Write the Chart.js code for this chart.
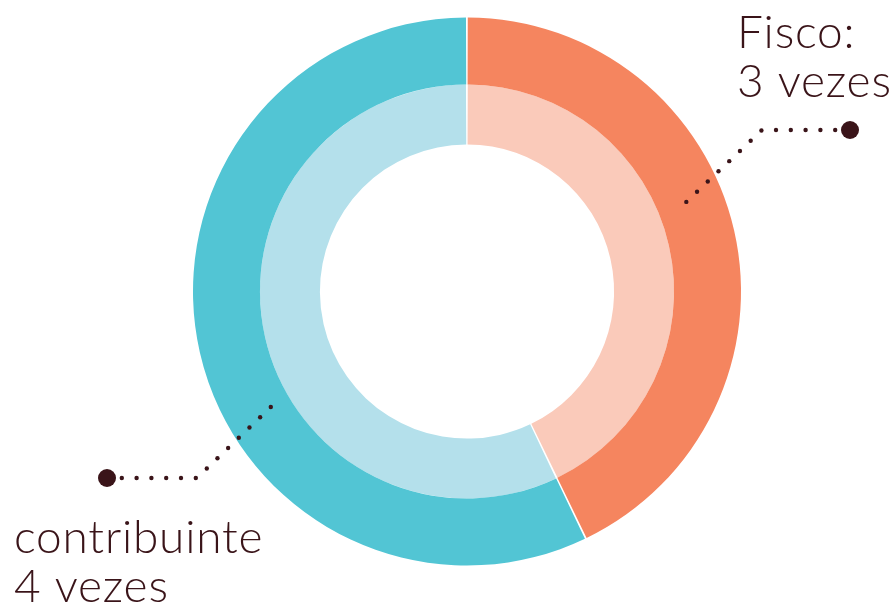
<!DOCTYPE html>
<html>
<head>
<meta charset="utf-8">
<script src="https://cdn.jsdelivr.net/npm/chart.js@4/dist/chart.umd.min.js"></script>
<style>
  html, body { margin: 0; padding: 0; background: #fff; }
  #wrap { width: 895px; height: 604px; position: relative; }
</style>
</head>
<body>
<div id="wrap"><canvas id="myChart"></canvas></div>
<script>
const labels = ["Fisco", "contribuinte"];
const outerValues = [3, 4];
const innerValues = [3, 4];
const calloutLines = [["Fisco:", "3 vezes"], ["contribuinte", "4 vezes"]];

const ink = "#3a1419";

// callouts: text and dotted pointer, in canvas pixels
const callouts = [
  { text: calloutLines[0], x: 737, y: 48, dot: [850, 130], corner: [762, 130], end: [682, 206] },
  { text: calloutLines[1], x: 14, y: 553, dot: [107, 478], corner: [197, 478], end: [276, 402] },
];

function dottedPath(ctx, pts, gap) {
  let carry = gap;
  for (let i = 0; i < pts.length - 1; i++) {
    const [x0, y0] = pts[i], [x1, y1] = pts[i + 1];
    const len = Math.hypot(x1 - x0, y1 - y0);
    let d = carry;
    while (d <= len) {
      const t = d / len;
      ctx.beginPath();
      ctx.arc(x0 + (x1 - x0) * t, y0 + (y1 - y0) * t, 2.2, 0, Math.PI * 2);
      ctx.fill();
      d += gap;
    }
    carry = d - len;
  }
}

const calloutPlugin = {
  id: "callouts",
  afterDraw(chart) {
    const ctx = chart.ctx;
    ctx.save();
    ctx.fillStyle = ink;
    ctx.font = "300 46px Lato";
    ctx.letterSpacing = "0.8px";
    ctx.textBaseline = "alphabetic";
    callouts.forEach((c) => {
      c.text.forEach((line, i) => ctx.fillText(line, c.x, c.y + i * 49));
      ctx.beginPath();
      ctx.arc(c.dot[0], c.dot[1], 9, 0, Math.PI * 2);
      ctx.fill();
      dottedPath(ctx, [c.dot, c.corner, c.end], 14.8);
    });
    ctx.restore();
  },
};

const data = {
  labels,
  datasets: [
    {
      label: "externo",
      data: outerValues,
      backgroundColor: ["#f5855f", "#52c5d4"],
      borderWidth: 0,
      weight: 67,
    },
    {
      label: "interno",
      data: innerValues,
      backgroundColor: ["#facaba", "#b4e0eb"],
      borderWidth: 0,
      weight: 60,
    },
  ],
};

const config = {
  type: "doughnut",
  data: data,
  options: {
    responsive: false,
    animation: false,
    cutout: "53.6%",
    spacing: 1,
    layout: { padding: { top: 17, bottom: 38, left: 193, right: 154 } },
    plugins: {
      legend: { display: false },
      tooltip: { enabled: false },
    },
  },
  plugins: [calloutPlugin],
};

const canvas = document.querySelector("#myChart");
canvas.width = 895;
canvas.height = 604;
const myChart = new Chart(canvas, config);
</script>
</body>
</html>
